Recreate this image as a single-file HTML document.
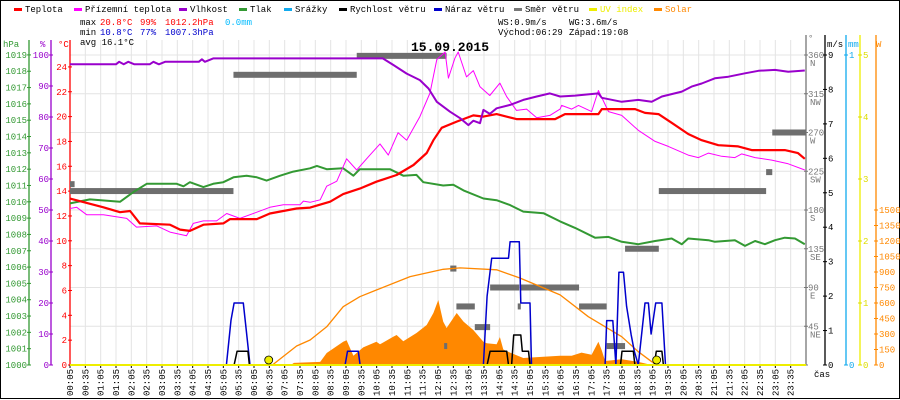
<!DOCTYPE html>
<html><head><meta charset="utf-8"><style>
body{margin:0;background:#fff}
svg{display:block;font-family:"Liberation Mono",monospace;font-size:9px}
</style></head><body>
<svg id="c" width="900" height="400" viewBox="0 0 900 400">
<rect x="0.5" y="0.5" width="899" height="398" fill="#fff" stroke="#000"/>
<g id="grid"></g>
<g id="axes"></g>
<g id="series"></g>
<g id="legend"></g>
<text x="450" y="51" text-anchor="middle" font-weight="bold" font-size="13">15.09.2015</text>
<g>
<text x="80" y="25">max</text><text x="100" y="25" fill="#f00">20.8°C</text><text x="140" y="25" fill="#f00">99%</text><text x="165" y="25" fill="#f00">1012.2hPa</text><text x="225" y="25" fill="#0bf">0.0mm</text>
<text x="80" y="35">min</text><text x="100" y="35" fill="#00c">10.8°C</text><text x="140" y="35" fill="#00c">77%</text><text x="165" y="35" fill="#00c">1007.3hPa</text>
<text x="80" y="45">avg 16.1°C</text>
<text x="498" y="25">WS:0.9m/s</text><text x="569" y="25">WG:3.6m/s</text>
<text x="498" y="35">Východ:06:29</text><text x="569" y="35">Západ:19:08</text>
</g>
</svg>
<script>
const NS='http://www.w3.org/2000/svg';
const temp=[[0,13.4],[1.09,12.7],[1.63,12.3],[1.96,12.4],[2.28,11.4],[3.26,11.3],[3.59,10.9],[3.91,10.8],[4.35,11.3],[5.0,11.4],[5.22,11.75],[6.09,11.75],[6.52,12.2],[7.39,12.6],[7.83,12.67],[8.48,13.15],[8.91,13.76],[9.45,14.2],[9.99,14.76],[10.65,15.3],[11.2,16.1],[11.63,17.07],[11.85,18.1],[12.12,19.1],[12.61,19.6],[13.15,20.1],[13.48,20.0],[13.91,20.2],[14.56,19.8],[15.82,19.8],[16.14,20.2],[17.23,20.2],[17.34,20.6],[18.43,20.6],[18.75,20.3],[19.19,20.2],[19.62,19.5],[20.16,18.6],[20.6,18.1],[21.14,17.7],[21.79,17.6],[22.23,17.3],[23.31,17.3],[23.74,17.06],[23.96,16.6]];
const feels=[[0,12.6],[0.22,12.7],[0.54,12.1],[1.09,12.1],[1.85,11.8],[2.17,11.1],[2.83,11.2],[3.26,10.7],[3.8,10.4],[4.02,11.4],[4.35,11.6],[4.78,11.6],[5.11,12.2],[5.54,11.8],[6.09,12.3],[6.52,12.7],[6.96,12.9],[7.5,12.9],[7.61,13.2],[7.83,13.1],[8.16,13.3],[8.37,14.4],[8.7,14.8],[9.02,16.6],[9.35,15.7],[9.78,16.9],[10.11,17.8],[10.38,16.9],[10.7,18.7],[10.98,18.1],[11.41,20.0],[11.74,21.9],[11.96,24.6],[12.23,25.2],[12.34,23.1],[12.55,24.7],[12.66,25.2],[12.93,23.2],[13.15,23.7],[13.37,22.4],[13.69,21.7],[14.02,22.7],[14.24,21.6],[14.56,20.5],[14.89,20.6],[15.22,19.9],[15.65,20.1],[15.98,20.6],[16.03,20.9],[16.36,20.6],[16.58,20.9],[17.01,20.4],[17.23,22.1],[17.56,20.4],[17.99,20.1],[18.53,18.9],[19.08,18.0],[19.51,17.6],[20.16,16.9],[20.49,16.7],[20.82,17.06],[21.25,16.8],[21.68,16.7],[21.9,17.0],[22.34,16.7],[22.88,16.5],[23.42,16.2],[23.96,15.7]];
const humidity=[[0,97.0],[1.5,97.0],[1.6,97.8],[1.75,97.0],[1.9,97.8],[2.1,97.0],[2.6,97.0],[2.72,97.8],[2.9,97.0],[3.1,97.8],[4.2,97.8],[4.3,98.6],[4.4,97.8],[4.67,98.9],[10.2,98.9],[10.54,96.8],[10.98,94],[11.41,91.9],[11.69,89.2],[11.96,84.9],[12.39,81.7],[12.72,79.6],[12.99,77.4],[13.15,78.8],[13.37,78],[13.48,82.3],[13.69,81],[13.91,82.8],[14.35,83.9],[14.78,85.5],[15.22,86.6],[15.65,87.6],[15.98,86.6],[16.47,86.9],[17.23,87.6],[17.34,86.2],[17.99,84.9],[18.53,85.5],[18.97,84.9],[19.3,86.6],[19.95,88.2],[20.27,89.8],[20.6,90.8],[21.03,92.5],[21.47,93.0],[22.01,94.1],[22.45,94.9],[22.99,95.2],[23.42,94.6],[23.96,95.0]];
const pressure=[[0,1009.9],[0.65,1010.15],[1.63,1010.0],[2.07,1010.6],[2.5,1011.1],[3.48,1011.1],[3.7,1010.95],[3.91,1011.2],[4.35,1010.9],[4.67,1011.1],[5.0,1011.2],[5.33,1011.5],[5.76,1011.6],[6.09,1011.5],[6.41,1011.3],[6.85,1011.6],[7.28,1011.85],[7.83,1012.05],[8.05,1012.2],[8.37,1012.0],[8.91,1012.05],[9.24,1011.6],[9.45,1012.0],[10.43,1012.0],[10.87,1011.6],[11.3,1011.65],[11.52,1011.2],[12.17,1011.0],[12.5,1011.05],[12.83,1010.7],[13.48,1010.2],[13.91,1010.1],[14.35,1009.8],[14.78,1009.4],[15.44,1009.3],[15.98,1008.8],[16.47,1008.4],[17.12,1007.8],[17.56,1007.85],[17.99,1007.55],[18.53,1007.4],[19.08,1007.6],[19.62,1007.75],[19.95,1007.4],[20.16,1007.75],[20.82,1007.65],[21.03,1007.55],[21.68,1007.65],[22.01,1007.3],[22.34,1007.6],[22.66,1007.4],[22.99,1007.65],[23.31,1007.8],[23.64,1007.75],[23.96,1007.4]];
const solar=[[7.2,0],[7.3,20],[8.16,30],[8.37,116],[8.91,225],[9.02,240],[9.24,90],[9.56,170],[9.99,225],[10.11,200],[10.54,274],[10.65,290],[10.87,230],[11.3,310],[11.63,387],[11.85,503],[12.01,629],[12.17,420],[12.28,358],[12.61,503],[12.83,420],[13.15,339],[13.48,225],[13.59,210],[13.91,200],[14.02,270],[14.13,150],[14.35,120],[14.78,68],[15.44,80],[15.98,90],[16.36,90],[16.68,120],[17.01,100],[17.23,225],[17.34,140],[17.45,39],[17.99,55],[18.53,30],[18.97,0]];
const solarMax=[[6.6,0],[7.39,184],[7.83,242],[8.37,370],[8.91,564],[9.45,661],[9.99,726],[11.09,855],[12.17,926],[12.72,940],[13.91,921],[14.67,842],[15.98,678],[16.9,467],[17.99,274],[18.53,129],[18.97,32],[19.15,0]];
const gust=[[0,0],[5.1,0],[5.25,1.3],[5.35,1.8],[5.65,1.8],[5.75,1.0],[5.87,0],[8.97,0],[9.05,0.4],[9.4,0.4],[9.46,0],[13.48,0],[13.6,2.0],[13.75,3.1],[14.3,3.1],[14.35,3.58],[14.65,3.58],[14.7,1.8],[15.0,1.8],[15.05,0],[17.45,0],[17.5,1.29],[17.7,1.29],[17.8,0],[17.9,2.69],[18.05,2.69],[18.15,1.7],[18.3,0.87],[18.4,0.4],[18.53,0],[18.75,1.8],[18.86,1.8],[18.95,0.9],[19.1,1.8],[19.3,1.8],[19.42,0],[24,0]];
const speed=[[0,0],[5.35,0],[5.45,0.4],[5.8,0.4],[5.85,0],[13.6,0],[13.7,0.4],[14.24,0.4],[14.3,0],[14.4,0],[14.47,0.87],[14.7,0.87],[14.75,0.4],[14.95,0.4],[15.0,0],[17.95,0],[18.0,0.4],[18.37,0.4],[18.42,0],[19.05,0],[19.12,0.4],[19.3,0.4],[19.35,0],[24,0]];
const direction=[[0,0.15,210],[0,5.33,202],[5.33,9.35,337],[9.35,12.28,359],[12.2,12.3,22],[12.4,12.6,112],[12.6,13.2,68],[13.2,13.7,44],[13.7,14.65,90],[14.6,14.7,68],[14.7,16.6,90],[16.6,17.5,68],[17.5,18.1,22],[18.1,19.2,135],[19.2,22.7,202],[22.7,22.9,224],[22.9,24,270]];
const sunMarks=[6.48,19.13];
const timeLabels=[];for(let i=0;i<48;i++){const m=5+i*30;timeLabels.push(String(Math.floor(m/60)).padStart(2,'0')+':'+String(m%60).padStart(2,'0'));}
const hpaTicks=[1000,1001,1002,1003,1004,1005,1006,1007,1008,1009,1010,1011,1012,1013,1014,1015,1016,1017,1018,1019];
const pctTicks=[0,10,20,30,40,50,60,70,80,90,100];
const tempTicks=[0,2,4,6,8,10,12,14,16,18,20,22,24];
const dirTicks=[[45,'NE'],[90,'E'],[135,'SE'],[180,'S'],[225,'SW'],[270,'W'],[315,'NW'],[360,'N']];
const msTicks=[0,1,2,3,4,5,6,7,8,9];
const wTicks=[0,150,300,450,600,750,900,1050,1200,1350,1500];

const X0=70,X1=806,Y0=365,YT=55;
const xs=h=>X0+h*(X1-X0)/24;
const yT=v=>Y0-v*12.42;
const yP=v=>Y0-v*3.1;
const yH=v=>Y0-(v-1000)*16.32;
const yD=v=>Y0-v*310/360;
const yM=v=>Y0-v*310/9;
const yW=v=>Y0-v*155/1500;
const yU=v=>Y0-v*62;

function el(tag,attrs,parent,text){const e=document.createElementNS(NS,tag);for(const k in attrs)e.setAttribute(k,attrs[k]);if(text!==undefined)e.textContent=text;parent.appendChild(e);return e;}
const grid=document.getElementById('grid'),axes=document.getElementById('axes'),ser=document.getElementById('series'),leg=document.getElementById('legend');

for(let i=1;i<48;i++){const x=X0+i*(X1-X0)/48;const l=el('line',{x1:x,y1:40,x2:x,y2:Y0,stroke:'#e4e4e4'},grid);

}
for(let i=1;i<=8;i++){const y=yD(i*45);const l=el('line',{x1:X0,y1:y,x2:X1,y2:y,stroke:'#e4e4e4'},grid);

}

function axis(x,color,y1,name){const l=el('line',{x1:x,y1:y1,x2:x,y2:Y0,stroke:color,'stroke-width':1.3},axes);

}
axis(29,'#393',40,'hpa-axis');axis(51,'#90c',40,'humidity-axis');axis(X0,'#f00',40,'temp-axis');
axis(X1,'#777',35,'direction-axis');axis(825,'#000',35,'wind-axis');axis(846,'#1ae',35,'rain-axis');axis(860,'#ee0',35,'uv-axis');axis(876,'#f80',35,'solar-axis');

function tick(x,y,color,label,anchor,tx,name){el('line',{x1:x-2,y1:y,x2:x+2,y2:y,stroke:color},axes);const t=el('text',{x:tx,y:y+3,fill:color,'text-anchor':anchor},axes,label);

}
hpaTicks.forEach(v=>tick(29,yH(v),'#393',String(v),'end',27,'hpa-tick-label'));
pctTicks.forEach(v=>tick(51,yP(v),'#90c',String(v),'end',49,'humidity-tick-label'));
tempTicks.forEach(v=>tick(X0,yT(v),'#f00',String(v),'end',67,'temp-tick-label'));
el('text',{x:3,y:47,fill:'#393'},axes,'hPa');el('text',{x:40,y:47,fill:'#90c'},axes,'%');el('text',{x:58,y:47,fill:'#f00'},axes,'°C');
el('text',{x:808,y:41,fill:'#777'},axes,'°');el('text',{x:827,y:47,fill:'#000'},axes,'m/s');el('text',{x:848,y:47,fill:'#1ae'},axes,'mm');el('text',{x:876,y:47,fill:'#f80'},axes,'W');
tick(X1,yD(0),'#777','','start',808,'direction-tick-label');
dirTicks.forEach(d=>{const y=yD(d[0]);tick(X1,y,'#777',String(d[0]),'start',808,'direction-tick-label');const t=el('text',{x:810,y:y+11,fill:'#777'},axes,d[1]);

});
msTicks.forEach(v=>tick(825,yM(v),'#000',String(v),'start',828,'wind-tick-label'));
[0,1].forEach(v=>tick(846,Y0-v*310,'#1ae',String(v),'start',849,'rain-tick-label'));
[0,1,2,3,4,5].forEach(v=>tick(860,yU(v),'#dd0',String(v),'start',863,'uv-tick-label'));
wTicks.forEach(v=>tick(876,yW(v),'#f80',String(v),'start',879,'solar-tick-label'));

timeLabels.forEach((s,i)=>{const x=X0+i*(X1-X0)/48;el('line',{x1:x,y1:Y0,x2:x,y2:Y0+3,stroke:'#000'},axes);const t=el('text',{x:0,y:0,transform:`translate(${x+3},396) rotate(-90)`},axes,s);

});
el('text',{x:814,y:377},axes,'čas');

function pts(arr,fy){return arr.map(p=>xs(p[0]).toFixed(1)+','+fy(p[1]).toFixed(1)).join(' ');}
const sa=el('polygon',{points:pts(solar,yW),fill:'#f80'},ser);


function line(arr,fy,color,w,name){const p=el('polyline',{points:pts(arr,fy),fill:'none',stroke:color,'stroke-width':w,'stroke-linejoin':'round'},ser);

}
direction.forEach(d=>{const r=el('rect',{x:xs(d[0]),y:yD(d[2])-3,width:Math.max(3,xs(d[1])-xs(d[0])),height:6,fill:'#6e6e6e'},ser);

});
line(solarMax,yW,'#f80',1.3,'solar-max-line');
line(pressure,yH,'#393',2,'pressure-line');
line(feels,yT,'#f0f',1,'feels-temp-line');
line(temp,yT,'#f00',2.2,'temp-line');
line(humidity,yP,'#90c',2,'humidity-line');
line(gust,yM,'#00c',1.5,'gust-line');
line(speed,yM,'#000',1.5,'speed-line');
const ub=el('line',{x1:X0,y1:Y0,x2:X1,y2:Y0,stroke:'#ee0','stroke-width':2},ser);


sunMarks.forEach(h=>{const c=el('circle',{cx:xs(h),cy:360,r:4,fill:'#ee0',stroke:'#000','stroke-width':0.8},ser);

});

const legendItems=[['Teplota','#f00',25],['Přízemní teplota','#f0f',85],['Vlhkost','#90c',190],['Tlak','#393',250],['Srážky','#1ae',295],['Rychlost větru','#000',350],['Náraz větru','#00c',445],['Směr větru','#777',525],['UV index','#ee0',600],['Solar','#f80',665]];
legendItems.forEach(it=>{const g=el('g',{},leg);


el('rect',{x:it[2]-11,y:8,width:8,height:3,fill:it[1]},g);el('text',{x:it[2],y:12,fill:(it[0]==='UV index'||it[0]==='Solar')?it[1]:'#000'},g,it[0]);});
</script>
</body></html>
